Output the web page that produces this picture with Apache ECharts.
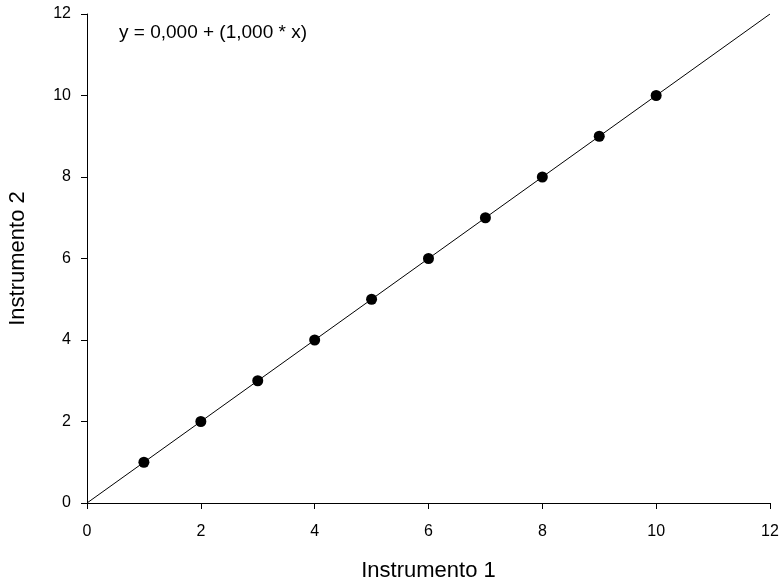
<!DOCTYPE html>
<html>
<head>
<meta charset="utf-8">
<script src="https://cdn.jsdelivr.net/npm/echarts@6/dist/echarts.min.js"></script>
<style>html,body{margin:0;padding:0;background:#fff;overflow:hidden}#c{width:783px;height:582px}</style>
</head>
<body>
<div id="c"></div>
<script>
var xValues = [1, 2, 3, 4, 5, 6, 7, 8, 9, 10];
var yValues = [1, 2, 3, 4, 5, 6, 7, 8, 9, 10];
var fitX = [0, 12];
var fitY = [0, 12];
var equationText = 'y = 0,000 + (1,000 * x)';
var xName = 'Instrumento 1';
var yName = 'Instrumento 2';

var points = xValues.map(function (x, i) { return [x, yValues[i]]; });
var fit = fitX.map(function (x, i) { return [x, fitY[i]]; });

var chart = echarts.init(document.getElementById('c'), null, {renderer: 'canvas'});
var font = 'Liberation Sans, Arial, sans-serif';
chart.setOption({
  animation: false,
  backgroundColor: '#fff',
  grid: {left: 87, width: 683, top: 14, height: 489, containLabel: false, outerBoundsMode: 'none'},
  xAxis: {
    type: 'value', min: 0, max: 12, interval: 2,
    name: xName, nameLocation: 'middle', nameGap: 57,
    nameTextStyle: {fontFamily: font, fontSize: 22, color: '#000'},
    axisLine: {show: true, lineStyle: {color: '#000', width: 1}},
    axisTick: {show: true, inside: false, length: 6, lineStyle: {color: '#000'}},
    axisLabel: {fontFamily: font, fontSize: 16, color: '#000', margin: 21},
    splitLine: {show: false}
  },
  yAxis: {
    type: 'value', min: 0, max: 12, interval: 2,
    name: yName, nameLocation: 'middle', nameGap: 58, nameRotate: 90,
    nameTextStyle: {fontFamily: font, fontSize: 22, color: '#000'},
    axisLine: {show: true, lineStyle: {color: '#000', width: 1}},
    axisTick: {show: true, inside: false, length: 6, lineStyle: {color: '#000'}},
    axisLabel: {fontFamily: font, fontSize: 16, color: '#000', margin: 16},
    splitLine: {show: false}
  },
  graphic: [{
    type: 'text', x: 119, y: 33,
    style: {text: equationText, fontFamily: font, fontSize: 19, fill: '#000', verticalAlign: 'middle'}
  }],
  series: [{
    type: 'line', data: fit, showSymbol: false, symbol: 'none',
    lineStyle: {color: '#000', width: 1}, z: 1
  }, {
    type: 'scatter', data: points, symbol: 'circle', symbolSize: 11,
    itemStyle: {color: '#000', opacity: 1}, z: 2
  }]
});
</script>
</body>
</html>
